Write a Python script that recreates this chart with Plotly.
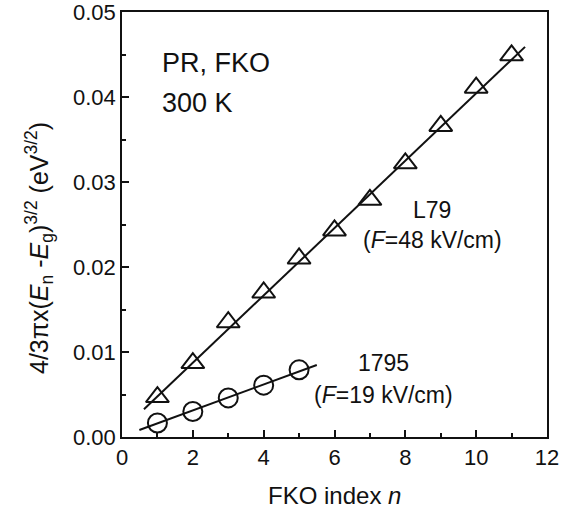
import plotly.graph_objects as go

# Data
n_L79 = [1, 2, 3, 4, 5, 6, 7, 8, 9, 10, 11]
y_L79 = [0.0047, 0.0087, 0.0135, 0.0170, 0.0210, 0.0243, 0.0279, 0.0322, 0.0366, 0.0411, 0.0449]
n_1795 = [1, 2, 3, 4, 5]
y_1795 = [0.00165, 0.0030, 0.0046, 0.0061, 0.0079]

fit_L79_x = [0.62, 11.38]
fit_L79_y = [0.00326, 0.0459]
fit_1795_x = [0.49, 5.50]
fit_1795_y = [0.00082, 0.00847]

x_ticks = [0, 2, 4, 6, 8, 10, 12]
y_ticks = [0.00, 0.01, 0.02, 0.03, 0.04, 0.05]

FONT = "Liberation Sans, Arial, sans-serif"
INK = "#111111"

fig = go.Figure()
fig.add_trace(go.Scatter(x=fit_L79_x, y=fit_L79_y, mode="lines",
                         line=dict(color=INK, width=2), showlegend=False, hoverinfo="skip"))
fig.add_trace(go.Scatter(x=fit_1795_x, y=fit_1795_y, mode="lines",
                         line=dict(color=INK, width=2), showlegend=False, hoverinfo="skip"))
fig.add_trace(go.Scatter(x=n_L79, y=y_L79, mode="markers", name="L79",
                         marker=dict(symbol="triangle-up-open", size=20,
                                     color=INK, line=dict(color=INK, width=2)),
                         showlegend=False))
fig.add_trace(go.Scatter(x=n_1795, y=y_1795, mode="markers", name="1795",
                         marker=dict(symbol="circle-open", size=19,
                                     color=INK, line=dict(color=INK, width=2)),
                         showlegend=False))

axis_common = dict(
    showgrid=False, zeroline=False, showline=True, linecolor=INK, linewidth=1.5,
    mirror=True, ticks="inside", tickcolor=INK, tickwidth=1.5, ticklen=7,
    tickfont=dict(family=FONT, size=22, color=INK), automargin=False,
    ticklabeloverflow="allow",
)

fig.update_xaxes(range=[0, 12], tickvals=x_ticks, ticktext=[str(v) for v in x_ticks],
                 minor=dict(ticks="inside", ticklen=4, tickwidth=1.5, tickcolor=INK, dtick=1),
                 **axis_common)
fig.update_yaxes(range=[0, 0.05], tickvals=y_ticks, ticktext=[f"{v:.2f}" for v in y_ticks],
                 minor=dict(ticks="inside", ticklen=4, tickwidth=1.5, tickcolor=INK, dtick=0.005),
                 **axis_common)

ann_font = dict(family=FONT, size=23, color=INK)
annotations = [
    dict(text="PR, FKO", x=0.09, y=0.88, xanchor="left", yanchor="middle", font=dict(family=FONT, size=27, color=INK)),
    dict(text="300 K", x=0.09, y=0.786, xanchor="left", yanchor="middle", font=dict(family=FONT, size=27, color=INK)),
    dict(text="L79", x=0.73, y=0.535, xanchor="center", yanchor="middle", font=ann_font),
    dict(text="(<i>F</i>=48 kV/cm)", x=0.73, y=0.464, xanchor="center", yanchor="middle", font=ann_font),
    dict(text="1795", x=0.615, y=0.174, xanchor="center", yanchor="middle", font=ann_font),
    dict(text="(<i>F</i>=19 kV/cm)", x=0.615, y=0.098, xanchor="center", yanchor="middle", font=ann_font),
    dict(text="FKO index <i>n</i>", x=0.5, y=-0.137, xanchor="center", yanchor="middle",
         font=dict(family=FONT, size=24, color=INK)),
    dict(text="4/3πx(<i>E</i><sub>n</sub> -<i>E</i><sub>g</sub>)<sup>3/2</sup> (eV<sup>3/2</sup>)",
         x=-0.195, y=0.445, xanchor="center", yanchor="middle", textangle=-90,
         font=dict(family=FONT, size=25, color=INK)),
]
for a in annotations:
    a.update(xref="paper", yref="paper", showarrow=False)

fig.update_layout(
    width=587, height=511,
    margin=dict(l=122, r=40, t=12, b=74, pad=0),
    paper_bgcolor="white", plot_bgcolor="white",
    annotations=annotations,
    font=dict(family=FONT, color=INK),
)

fig.write_html("out.html", config={"displayModeBar": False},
               post_script="document.body.style.margin='0';document.body.style.overflow='hidden';")
